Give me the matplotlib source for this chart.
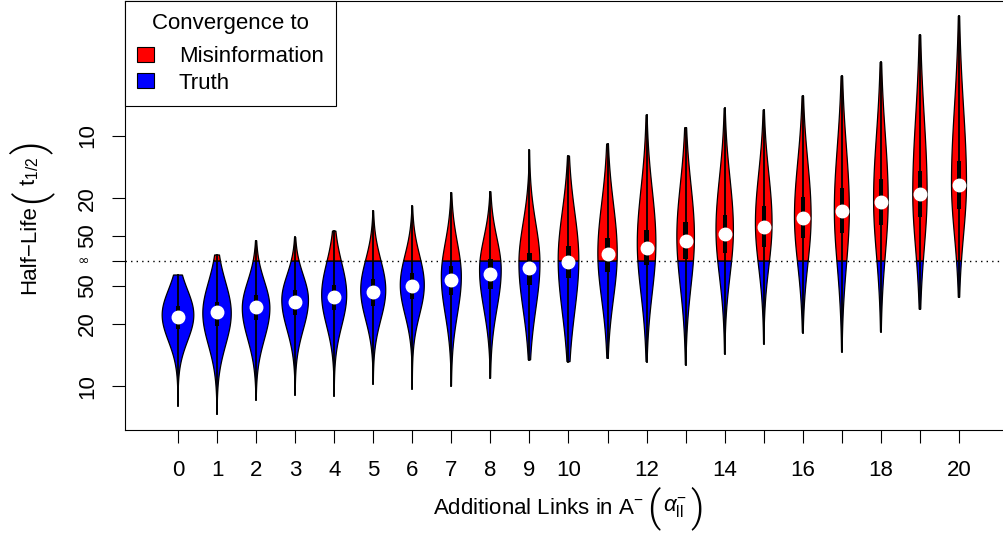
import numpy as np
import matplotlib
matplotlib.use("Agg")
import matplotlib.pyplot as plt
from matplotlib.patches import Patch, Rectangle

plt.rcParams["font.family"] = ["Liberation Sans", "DejaVu Sans"]
plt.rcParams["mathtext.fontset"] = "custom"
plt.rcParams["mathtext.rm"] = "Liberation Sans"
plt.rcParams["mathtext.it"] = "Liberation Sans:italic"
plt.rcParams["mathtext.bf"] = "Liberation Sans:bold"

# additional links (x positions)
LINKS = list(range(21))
XLABELED = [0, 1, 2, 3, 4, 5, 6, 7, 8, 9, 10, 12, 14, 16, 18, 20]

# values on the signed inverse half-life scale (1/t_half):
# > 0 converges to misinformation, < 0 converges to truth
V_LO = [-0.1155, -0.1223, -0.1109, -0.1069, -0.1077, -0.0982, -0.1019, -0.0998,
        -0.0936, -0.0790, -0.0804, -0.0777, -0.0804, -0.0830, -0.0742, -0.0662,
        -0.0572, -0.0724, -0.0564, -0.0385, -0.0290]
V_HI = [-0.0112, 0.0048, 0.0162, 0.0189, 0.0239, 0.0401, 0.0439, 0.0545,
        0.0553, 0.0886, 0.0838, 0.0934, 0.1165, 0.1064, 0.1219, 0.1205,
        0.1317, 0.1476, 0.1586, 0.1804, 0.1955]
V_MODE = [-0.0431, -0.0417, -0.0377, -0.0311, -0.0271, -0.0231, -0.0192, -0.0125,
          -0.0072, -0.0018, 0.0008, 0.0061, 0.0141, 0.0194, 0.0247, 0.0301,
          0.0354, 0.0407, 0.0487, 0.0540, 0.0620]
Q1 = [-0.0545, -0.0516, -0.0471, -0.0431, -0.0391, -0.0359, -0.0306, -0.0271,
      -0.0226, -0.0192, -0.0138, -0.0085, -0.0032, 0.0014, 0.0066, 0.0114,
      0.0181, 0.0221, 0.0287, 0.0349, 0.0413]
MED = [-0.0445, -0.0409, -0.0370, -0.0325, -0.0285, -0.0250, -0.0200, -0.0152,
       -0.0104, -0.0058, -0.0006, 0.0053, 0.0101, 0.0160, 0.0215, 0.0274,
       0.0341, 0.0401, 0.0473, 0.0535, 0.0607]
Q3 = [-0.0359, -0.0325, -0.0271, -0.0231, -0.0192, -0.0146, -0.0093, -0.0040,
      0.0014, 0.0061, 0.0120, 0.0181, 0.0247, 0.0314, 0.0367, 0.0439,
      0.0513, 0.0580, 0.0652, 0.0721, 0.0800]
# violin shape: max half width (x units) and spread above / below the mode
HALF_W = [0.405, 0.364, 0.353, 0.341, 0.320, 0.320, 0.307, 0.256, 0.277, 0.269,
          0.264, 0.248, 0.238, 0.225, 0.223, 0.213, 0.213, 0.192, 0.187, 0.184, 0.192]
SPREAD_UP = [0.0200, 0.0247, 0.0215, 0.0200, 0.0255, 0.0239, 0.0239, 0.0271,
             0.0255, 0.0319, 0.0383, 0.0399, 0.0431, 0.0415, 0.0415, 0.0399,
             0.0439, 0.0503, 0.0519, 0.0599, 0.0607]
SPREAD_DN = [0.0208, 0.0255, 0.0247, 0.0239, 0.0247, 0.0239, 0.0239, 0.0303,
             0.0311, 0.0367, 0.0415, 0.0367, 0.0399, 0.0399, 0.0367, 0.0351,
             0.0383, 0.0447, 0.0439, 0.0439, 0.0415]

YTICKS = [0.1, 0.05, 0.02, 0.0, -0.02, -0.05, -0.1]
YTICKLABELS = ["10", "20", "50", "", "50", "20", "10"]

FS = 16
FS_PAREN = 30
PAREN_FONT = dict(family=["Roboto", "DejaVu Sans"], weight=300)


def violin(ax, x, lo, hi, mode, w, s_up, s_dn):
    v = np.linspace(lo, hi, 600)
    if lo < 0 < hi:
        v = np.sort(np.append(v, 0.0))
    s = np.where(v >= mode, s_up, s_dn)
    hw = w * np.exp(-0.5 * ((v - mode) / s) ** 2)
    for mask, col in ((v <= 0, "blue"), (v >= 0, "red")):
        if mask.sum() < 2:
            continue
        vv, hh = v[mask], hw[mask]
        xs = np.concatenate([x - hh, (x + hh)[::-1]])
        ys = np.concatenate([vv, vv[::-1]])
        ax.fill(xs, ys, facecolor=col, edgecolor="black", lw=0.9, zorder=2)


def label_pieces(fig, pieces, cx, cy, vertical=False, gap=3):
    # lay out text pieces (big parentheses in between) one after another, centred on (cx, cy) px
    W, H = fig.bbox.width, fig.bbox.height
    r = fig.canvas.get_renderer()
    texts = []
    for s, fs in pieces:
        kw = PAREN_FONT if s in "()" else {}
        if vertical:
            t = fig.text(0, 0, s, fontsize=fs, rotation=90, ha="center", va="bottom", **kw)
        else:
            t = fig.text(0, 0, s, fontsize=fs, ha="left", va="center", **kw)
        texts.append(t)
    sizes = []
    for t in texts:
        bb = t.get_window_extent(r)
        sizes.append((bb.height if vertical else bb.width) + gap)
    pos = (cy if vertical else cx) - sum(sizes) / 2
    for t, sz in zip(texts, sizes):
        if vertical:
            t.set_position((cx / W, pos / H))
        else:
            t.set_position((pos / W, cy / H))
        pos += sz


fig = plt.figure(figsize=(10.04, 5.33), dpi=100)
ax = fig.add_axes([125 / 1004, 103 / 533, 0.93, (533 - 103 - 0.6) / 533])

ax.axhline(0, color="black", lw=1.0, ls=(0, (1, 3)), zorder=1)

for i, x in enumerate(LINKS):
    violin(ax, x, V_LO[i], V_HI[i], V_MODE[i], HALF_W[i], SPREAD_UP[i], SPREAD_DN[i])
    ax.plot([x, x], [V_LO[i], V_HI[i]], color="black", lw=1.3, zorder=3)
    ax.add_patch(Rectangle((x - 0.055, Q1[i]), 0.11, Q3[i] - Q1[i],
                           facecolor="black", edgecolor="none", zorder=4))
    ax.plot(x, MED[i], "o", color="white", ms=9, mec="white", zorder=5)

ax.set_xlim(-1.357, -1.357 + 0.93 * 1004 / 39.05)
ax.set_ylim(-0.1349, 0.2078)

ax.set_xticks(LINKS)
ax.set_xticklabels([str(i) if i in XLABELED else "" for i in LINKS])
ax.set_yticks(YTICKS)
ax.set_yticklabels(YTICKLABELS, rotation=90, va="center")
ax.tick_params(length=9.4, width=0.8, labelsize=FS, color="black")
ax.tick_params(axis="x", pad=12)
ax.tick_params(axis="y", pad=10)
ax.text(-42 / 933.7, 0.0, "\u221e", transform=ax.get_yaxis_transform(),
        ha="center", va="center", fontsize=10, rotation=0,
        family="DejaVu Sans", clip_on=False)

ax.spines["right"].set_visible(False)
for sp in ("left", "bottom", "top"):
    ax.spines[sp].set_linewidth(0.8)

label_pieces(fig, [("Half\u2212Life", FS), ("(", FS_PAREN),
                   ("$\\mathrm{t}_{1/2}$", FS), (")", FS_PAREN)],
             30, 533 - 216, vertical=True)
label_pieces(fig, [("Additional Links in A$^{-}$", FS), ("(", FS_PAREN),
                   ("$\\alpha^{-}_{\\mathrm{ll}}$", FS), (")", FS_PAREN)],
             570, 533 - 508)

handles = [Patch(facecolor="red", edgecolor="black", lw=0.8, label="Misinformation"),
           Patch(facecolor="blue", edgecolor="black", lw=0.8, label="Truth")]
leg = ax.legend(handles=handles, title="Convergence to", loc="upper left",
                bbox_to_anchor=(0, 1), borderaxespad=0, fancybox=False,
                edgecolor="black", framealpha=1, fontsize=FS, title_fontsize=FS,
                handlelength=0.77, handleheight=0.65, handletextpad=1.1,
                labelspacing=0.25, borderpad=0.55)
leg.get_frame().set_linewidth(0.8)
leg._legend_box.sep = 0.55 * FS
leg.set_zorder(10)

fig.savefig("out.png", dpi=100)
